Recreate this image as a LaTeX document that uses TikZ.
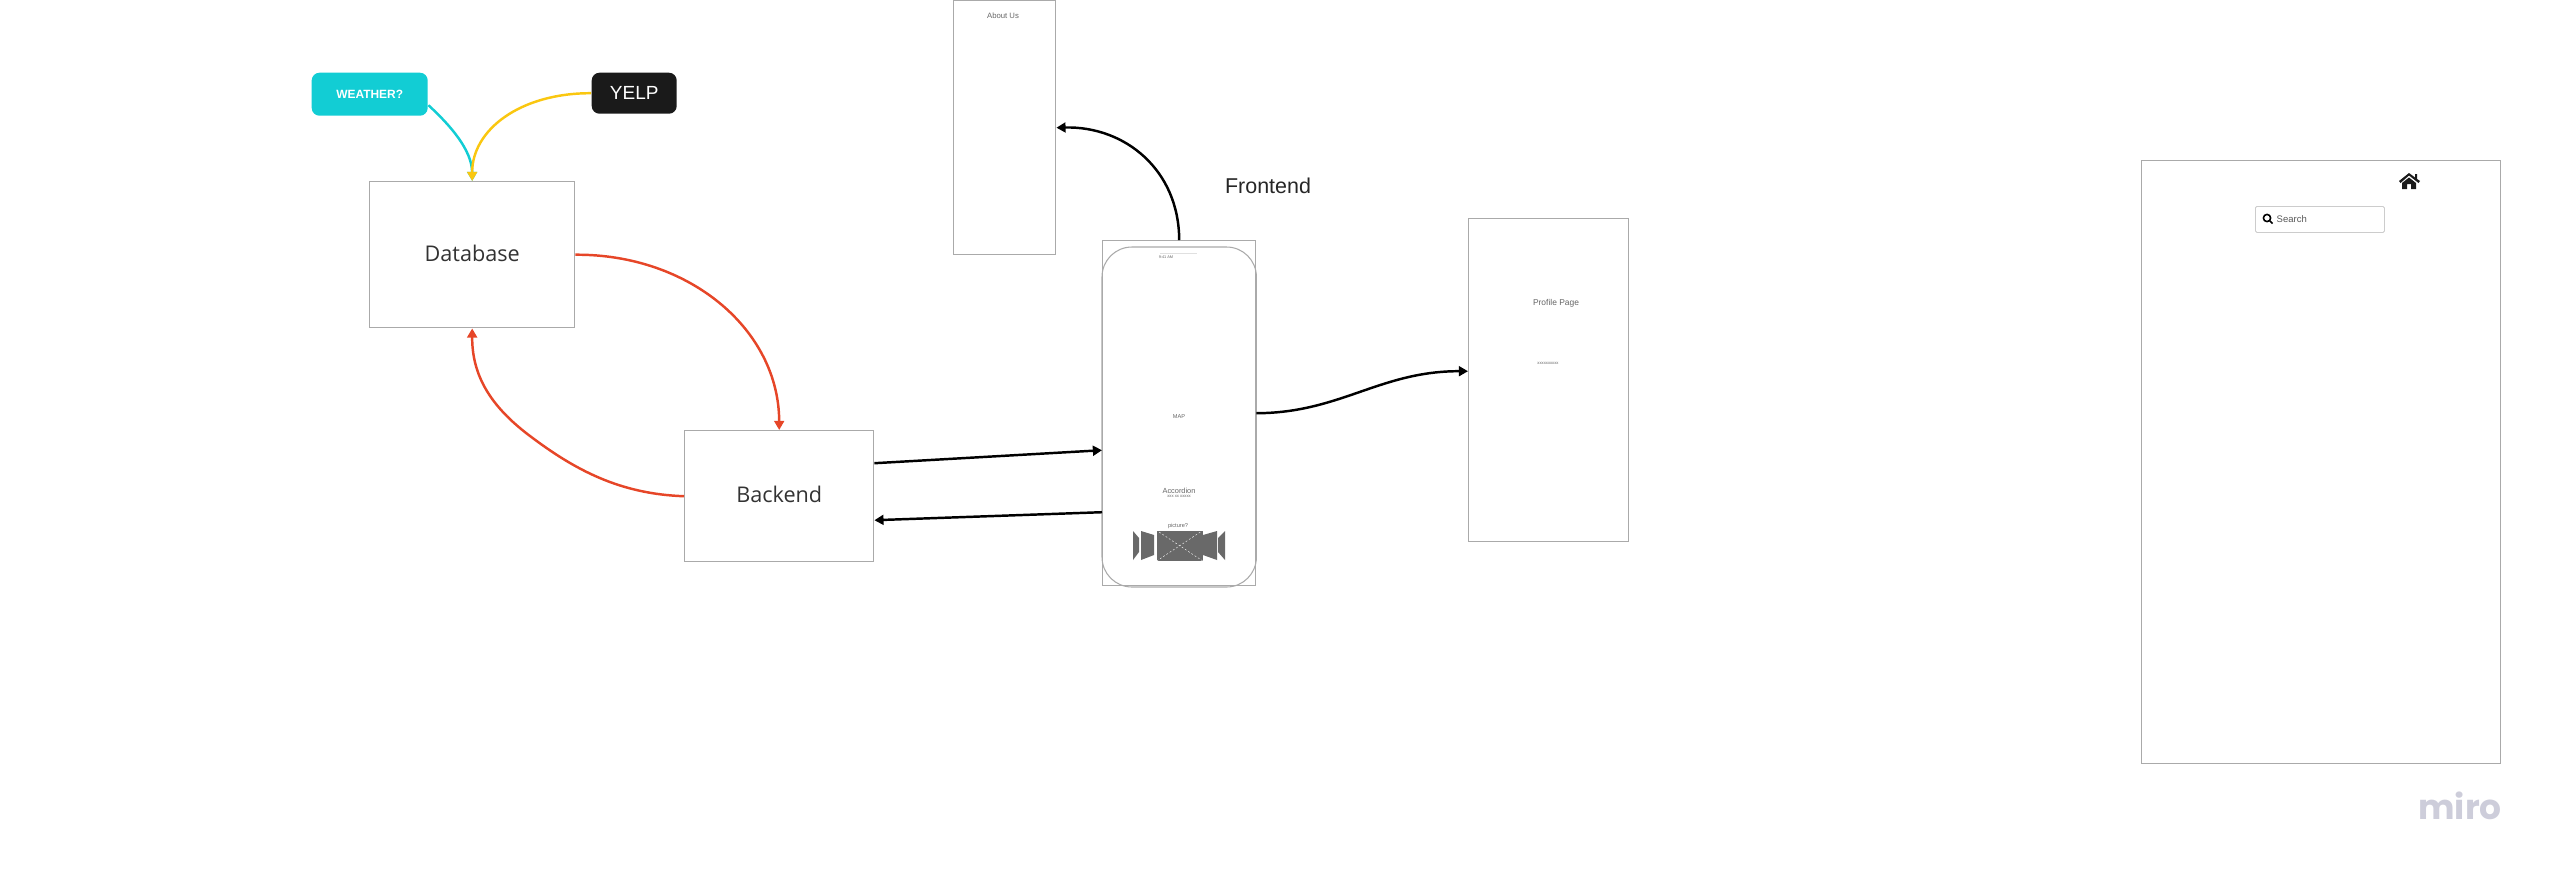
\documentclass[tikz,border=0pt]{standalone}
\usepackage{fontspec}
\setmainfont{Liberation Sans}
\newfontfamily\opensans{Open Sans}
\newfontfamily\miro{Poppins}
\usepackage{tikz}
\usetikzlibrary{positioning, arrows.meta, calc}
\usepackage{xcolor}
\definecolor{miroteal}{RGB}{18, 205, 212}
\definecolor{miroblack}{RGB}{26, 26, 26}
\definecolor{miroyellow}{RGB}{250, 199, 16}
\definecolor{mirored}{RGB}{230, 70, 40}
\definecolor{frameline}{RGB}{170, 170, 170}
\definecolor{imggray}{RGB}{105, 105, 105}
\definecolor{logogray}{RGB}{205, 205, 218}
\tikzset{
  block/.style={draw=frameline, line width=0.4pt, fill=white, inner sep=0pt, anchor=north west, font=\opensans\fontsize{6.15}{8}\selectfont, text=black!80},
  sticker/.style={rounded corners=2.2pt, inner sep=0pt, anchor=north west, text=white},
  wire/.style={-{Triangle[length=2.6pt, width=2.8pt]}, line width=0.7pt},
  tinytext/.style={font=\fontsize{1.6}{2}\selectfont, text=black!60, inner sep=0pt},
  imgpart/.style={fill=imggray, draw=none}
}
\begin{document}
\begin{tikzpicture}[x=0.01cm, y=-0.01cm]
    \useasboundingbox (0,0) rectangle (2560,878);
    % Sources
    \node[sticker, fill=miroteal, minimum width=116*0.01cm, minimum height=43*0.01cm, font=\bfseries\fontsize{3.4}{4}\selectfont] (weather) at (311,72) {WEATHER?};
    \node[sticker, fill=miroblack, minimum width=85*0.01cm, minimum height=41*0.01cm, font=\fontsize{5.4}{6}\selectfont] (yelp) at (591,72) {\raisebox{0.3pt}{YELP}};
    % Blocks
    \node[block, minimum width=205*0.01cm, minimum height=146*0.01cm] (database) at (369,181) {\raisebox{1pt}{Database}};
    \node[block, minimum width=189*0.01cm, minimum height=131*0.01cm] (backend) at (684,430) {\raisebox{1pt}{Backend}};
    % Pages
    \node[block, minimum width=102*0.01cm, minimum height=254*0.01cm] (about) at (953,0) {};
    \node[block, minimum width=153*0.01cm, minimum height=345*0.01cm] (phone) at (1102,240) {};
    \node[block, minimum width=160*0.01cm, minimum height=323*0.01cm] (profile) at (1468,218) {};
    \node[block, minimum width=359*0.01cm, minimum height=603*0.01cm] (home) at (2141,160) {};
    \draw[frameline, line width=0.3pt, rounded corners=8.5pt] (phone.west |- 0,247) rectangle (phone.east |- 0,587);
    % Page texts
    \node[tinytext, font=\fontsize{2.2}{3}\selectfont] (abouttitle) at (1003,16) {About Us};
    \node[tinytext, font=\fontsize{2.4}{3}\selectfont] (profiletitle) at (1556,303) {Profile Page};
    \node[tinytext, font=\fontsize{1.2}{2}\selectfont] (profilesub) at (1548,363) {xxxxxxxxxx};
    \node[tinytext, font=\fontsize{1.1}{2}\selectfont] (status) at (1166,257) {9:41 AM};
    \draw[black!12, line width=0.1pt] (1160,253) -- (1197,253);
    \node[tinytext] (map) at (1179,417) {MAP};
    \node[tinytext, font=\fontsize{2.1}{3}\selectfont] (accordion) at (1179,491) {Accordion};
    \node[tinytext, font=\fontsize{1.2}{2}\selectfont] (accordionsub) at (1179,496) {xxx xx xxxxx};
    \node[tinytext] (picture) at (1178,526) {picture?};
    % Image carousel
    \node[imgpart, inner sep=0pt, minimum width=46*0.01cm, minimum height=30*0.01cm, anchor=north west] (img) at (1156,530) {};
    \draw[white, dash pattern=on 0.5pt off 0.6pt, line width=0.12pt] (img.north west) -- (img.south east) (img.north east) -- (img.south west);
    \fill[imggray] (1141,531) -- (1154,535) -- (1154,555) -- (1141,560) -- cycle;
    \fill[imggray] (1133,531) -- (1139,538) -- (1139,552) -- (1133,560) -- cycle;
    \fill[imggray] (1217,531) -- (1203,535) -- (1203,555) -- (1217,560) -- cycle;
    \fill[imggray] (1225,531) -- (1218,538) -- (1218,552) -- (1225,560) -- cycle;
    % Search box
    \node[draw=black!20, fill=white, line width=0.25pt, rounded corners=0.4pt, minimum width=129*0.01cm, minimum height=26*0.01cm, inner sep=0pt, anchor=north west] (search) at (2255,206) {};
    \node[inner sep=0pt, anchor=west, font=\fontsize{2.7}{3}\selectfont, text=black!65] (searchtext) at (2276,219) {Search};
    \draw[black, line width=0.45pt] (2267,218) circle (3.6) (2270,221) -- (2272.5,223.5);
    % Home icon
    \fill[miroblack] (2399,181) -- (2409,173) -- (2415,177.5) -- (2415,174) -- (2417,174) -- (2417,179) -- (2420,181) -- (2418.5,183) -- (2409,175.5) -- (2400.5,183) -- cycle;
    \fill[miroblack] (2402,183) -- (2409,177.5) -- (2416,183) -- (2416,189) -- (2411,189) -- (2411,184) -- (2407,184) -- (2407,189) -- (2402,189) -- cycle;
    % Labels
    \node[inner sep=0pt, font=\fontsize{6.1}{8}\selectfont, text=black!85] (frontend) at (1268,186) {Frontend};
    \node[inner sep=0pt, font=\miro\bfseries\fontsize{9.8}{12}\selectfont, text=logogray] (logo) at (2460,806) {miro};
    % Connectors
    \draw[wire, miroteal] ($(weather.east)+(0,11)$) .. controls (450,125) and (472,150) .. (database.north);
    \draw[wire, miroyellow] (yelp.west) .. controls (520,93) and (472,130) .. (database.north);
    \draw[wire, mirored] (database.east) .. controls (690,254) and (779,330) .. (backend.north);
    \draw[wire, mirored] (backend.west) .. controls (620,494) and (575,470) .. (530,436) .. controls (490,406) and (472,375) .. (database.south);
    \draw[wire, black] ($(backend.east)+(0,-33)$) -- ($(phone.west)+(0,37)$);
    \draw[wire, black] ($(phone.west)+(0,99)$) -- ($(backend.east)+(0,24)$);
    \draw[wire, black] (phone.north) .. controls (1179,170) and (1125,126) .. (about.east);
    \draw[wire, black] (phone.east) .. controls (1340,413) and (1380,371) .. ($(profile.west)+(0,-9)$);
\end{tikzpicture}
\end{document}
